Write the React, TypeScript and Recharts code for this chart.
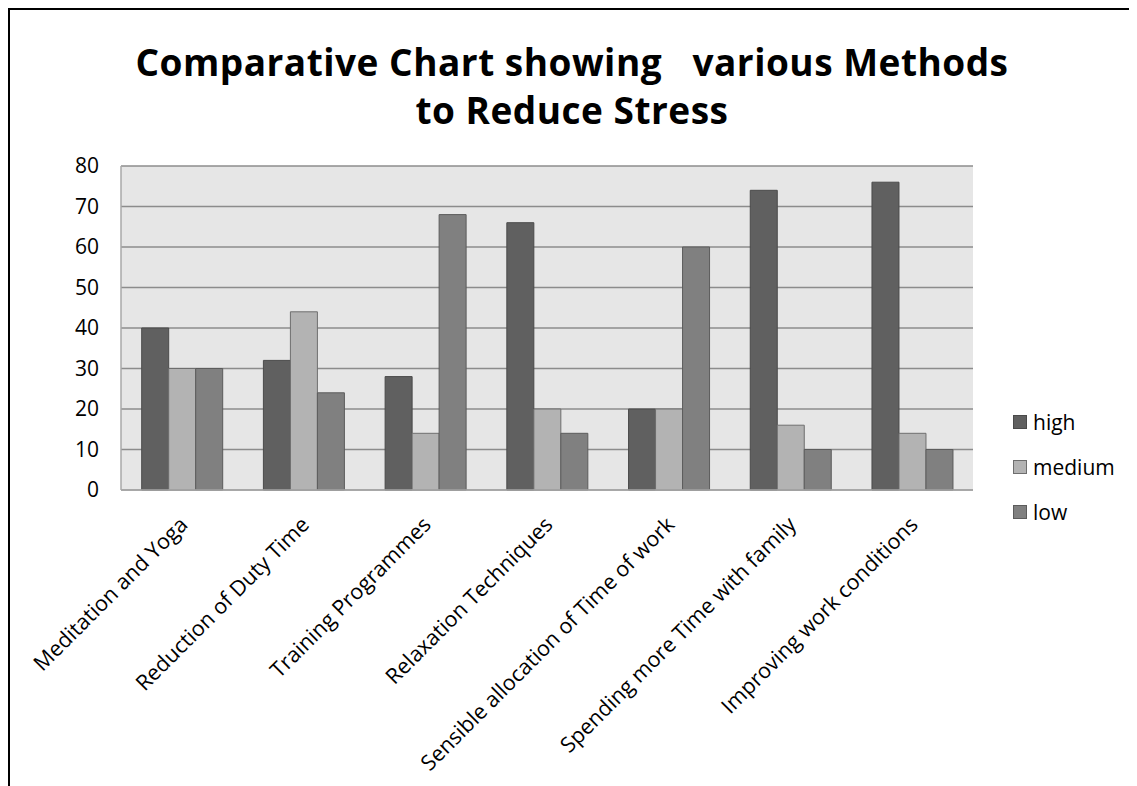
import { BarChart, Bar, XAxis, YAxis, CartesianGrid } from "recharts";

const methods = [
  "Meditation and Yoga",
  "Reduction of Duty Time",
  "Training Programmes",
  "Relaxation Techniques",
  "Sensible allocation of Time of work",
  "Spending more Time with family",
  "Improving work conditions",
];
const high = [40, 32, 28, 66, 20, 74, 76];
const medium = [30, 44, 14, 20, 20, 16, 14];
const low = [30, 24, 68, 14, 60, 10, 10];
const yTicks = [0, 10, 20, 30, 40, 50, 60, 70, 80];

const data = methods.map((name, i) => ({ name, high: high[i], medium: medium[i], low: low[i] }));

const series = [
  { key: "high", fill: "#606060", stroke: "#4a4a4a" },
  { key: "medium", fill: "#b3b3b3", stroke: "#6e6e6e" },
  { key: "low", fill: "#808080", stroke: "#5c5c5c" },
];

const FONT = "'Open Sans', sans-serif";

function CategoryTick({ x, y, payload }: any) {
  const ax = x + 7;
  const ay = y + 28;
  return (
    <text
      x={ax}
      y={ay}
      transform={`rotate(-45 ${ax} ${ay})`}
      textAnchor="end"
      fontSize={21.5}
      fontFamily={FONT}
      fill="#000"
    >
      {payload.value}
    </text>
  );
}

function LegendBox() {
  return (
    <div
      style={{
        position: "absolute",
        left: 1005,
        top: 391,
        fontFamily: FONT,
        fontSize: 21,
        color: "#000",
      }}
    >
      {series.map((s) => (
        <div key={s.key} style={{ display: "flex", alignItems: "center", height: 45 }}>
          <span
            style={{
              display: "inline-block",
              width: 12,
              height: 12,
              background: s.fill,
              border: `1px solid ${s.stroke}`,
              marginRight: 6,
            }}
          />
          {s.key}
        </div>
      ))}
    </div>
  );
}

export default function App() {
  return (
    <div style={{ position: "relative", width: 1130, height: 779, background: "#fff" }}>
      <div
        style={{
          position: "absolute",
          left: -1,
          top: -1,
          right: 0,
          bottom: 0,
          borderTop: "3px solid #000",
          borderLeft: "3px solid #000",
          pointerEvents: "none",
        }}
      />
      <div
        style={{
          position: "absolute",
          left: 0,
          width: 1128,
          top: 30,
          textAlign: "center",
          fontFamily: FONT,
          fontWeight: 700,
          fontSize: 37,
          letterSpacing: 0.5,
          lineHeight: "48px",
          color: "#000",
          whiteSpace: "pre",
        }}
      >
        {"Comparative Chart showing   various Methods\nto Reduce Stress"}
      </div>
      <BarChart
        width={1130}
        height={779}
        data={data}
        margin={{ top: 158, right: 165, left: 0, bottom: 0 }}
        barCategoryGap="17%"
        barGap={0}
      >
        <CartesianGrid vertical={false} fill="#e6e6e6" stroke="#8c8c8c" strokeWidth={1.5} />
        <XAxis
          dataKey="name"
          interval={0}
          height={297}
          tickLine={false}
          axisLine={{ stroke: "#a8a8a8", strokeWidth: 1.5 }}
          tick={<CategoryTick />}
        />
        <YAxis
          width={113}
          domain={[0, 80]}
          ticks={yTicks}
          interval={0}
          tickLine={false}
          axisLine={{ stroke: "#a8a8a8", strokeWidth: 1.5 }}
          tickMargin={16}
          tick={{ fontSize: 21, fontFamily: FONT, fill: "#000" }}
        />
        {series.map((s) => (
          <Bar
            key={s.key}
            dataKey={s.key}
            fill={s.fill}
            stroke={s.stroke}
            strokeWidth={1}
            isAnimationActive={false}
          />
        ))}
      </BarChart>
      <LegendBox />
    </div>
  );
}
